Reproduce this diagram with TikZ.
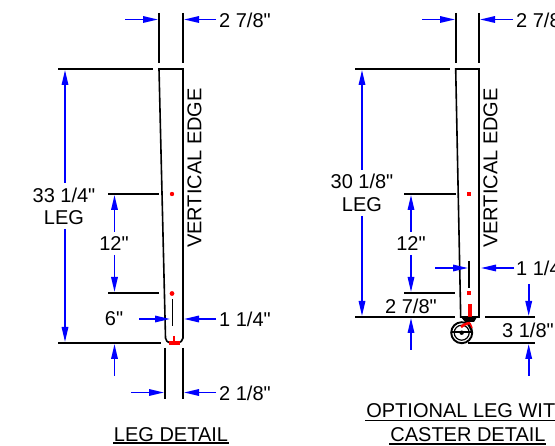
\documentclass[tikz,border=0pt]{standalone}
\usepackage{fontspec}
\newfontfamily\dimfont{Liberation Sans}
\usetikzlibrary{arrows.meta}

\begin{document}
\begin{tikzpicture}[x=1pt,y=-1pt]
		
		\tikzset{outline/.style = {draw=black,line width=1.6pt}}
		\tikzset{dim/.style = {draw=blue,line width=1.6pt,-{Triangle[length=15pt,width=6.5pt]}}}
		\tikzset{redline/.style = {red,line width=1.6pt}}
		\tikzset{dimtext/.style = {inner sep=0pt,font=\dimfont\fontsize{20}{24}\selectfont}}
		\useasboundingbox (0,0) rectangle (555,446);
		\fill[white] (0,0) rectangle (555,446);
		
		% leg detail
		\draw[outline] (159,69) -- (183,69) -- (183,338) to[bend left=35] (178,343) -- (170,343) to[bend left=35] (165.5,338) -- cycle;
		\draw[outline] (159,13) -- (159,63);
		\draw[outline] (183,13) -- (183,63);
		\draw[outline] (165,348) -- (165,399);
		\draw[outline] (183,348) -- (183,399);
		\draw[outline] (58,69) -- (153,69);
		\draw[outline] (108,194) -- (159,194);
		\draw[outline] (108,293) -- (158.5,293);
		\draw[outline] (58,343) -- (161,343);
		\draw[outline] (172.5,299) -- (172.5,326);
		\fill[red] (172,194) circle (2.2);
		\fill[red] (172,293.5) circle (2.4);
		\fill[red] (169,341) rectangle (180,345);
		\draw[redline] (174,336) -- (174,343);
		
		% leg detail labels
		\node[dimtext,anchor=west] (top1) at (219,20) {2 7/8"};
		\node[dimtext,anchor=west] (mid1) at (219,319) {1 1/4"};
		\node[dimtext,anchor=west] (bot1) at (219,393) {2 1/8"};
		\node[dimtext] (len1) at (64,195) {33 1/4"};
		\node[dimtext] (leg1) at (64,218) {LEG};
		\node[dimtext] (gap1) at (114,244) {12"};
		\node[dimtext] (six1) at (114,319) {6"};
		\node[dimtext,rotate=90] (edge1) at (194.5,168) {VERTICAL EDGE};
		\node[dimtext] (title1) at (171,435) {LEG DETAIL};
		\draw[outline] (113,443) -- (229,443);
		
		% leg detail dimensions
		\draw[dim] (125,19.5) -- (158,19.5);
		\draw[dim] (216,19.5) -- (184,19.5);
		\draw[dim] (65,183) -- (65,70);
		\draw[dim] (65,229) -- (65,342);
		\draw[dim] (114.5,232) -- (114.5,195);
		\draw[dim] (114.5,255) -- (114.5,292);
		\draw[dim] (114.5,376) -- (114.5,344);
		\draw[dim] (139,319) -- (170,319);
		\draw[dim] (216,319) -- (184,319);
		\draw[dim] (131,392.5) -- (164,392.5);
		\draw[dim] (216,392.5) -- (184,392.5);
		
		% leg with caster
		\draw[outline] (455.7,69) -- (479,69) -- (479,317) -- (460.7,317) -- cycle;
		\draw[outline] (455.7,13) -- (455.7,63);
		\draw[outline] (479,13) -- (479,63);
		\draw[outline] (355,69) -- (450,69);
		\draw[outline] (404,194) -- (455.7,194);
		\draw[outline] (404,293) -- (455,293);
		\draw[outline] (355,317) -- (455,317);
		\draw[outline] (485,317) -- (535,317);
		\draw[outline] (468,343) -- (535,343);
		\draw[outline] (469,261) -- (469,288);
		\fill[red] (467,192) rectangle (471,196);
		\fill[red] (467,291.5) rectangle (471,295.5);
		\fill[red] (468,304) rectangle (472,317);
		
		% caster
		\fill[black] (461,317) -- (477,317) -- (474,322) -- (465,322) -- cycle;
		\draw[black,line width=1.9pt] (461.7,332.7) circle (10.5);
		\draw[black,line width=1.2pt] (461.7,332.7) circle (7.5);
		\draw[black,line width=1.2pt] (451,332) -- (473,332);
		\fill[black] (461.7,332.7) circle (2.2);
		\draw[black,line width=1.4pt] (467,322) -- (472,332);
		\draw[red,line width=2.6pt] (461,327) to[bend left=15] (470,323);
		\draw[red,line width=1.4pt] (470,323) -- (472,328);
		
		% leg with caster labels
		\node[dimtext,anchor=west] (top2) at (516,20) {2 7/8"};
		\node[dimtext,anchor=west] (mid2) at (516,268) {1 1/4"};
		\node[dimtext] (wheel2) at (528,330) {3 1/8"};
		\node[dimtext] (len2) at (362,181) {30 1/8"};
		\node[dimtext] (leg2) at (362,205) {LEG};
		\node[dimtext] (gap2) at (411,244) {12"};
		\node[dimtext] (base2) at (411,306) {2 7/8"};
		\node[dimtext,rotate=90] (edge2) at (490.5,168) {VERTICAL EDGE};
		\node[dimtext] (title2) at (468,411) {OPTIONAL LEG WITH};
		\node[dimtext] (title3) at (468,435) {CASTER DETAIL};
		\draw[outline] (365,420.7) -- (555,420.7);
		\draw[outline] (389,444) -- (546,444);
		
		% leg with caster dimensions
		\draw[dim] (422,19.5) -- (455,19.5);
		\draw[dim] (513,19.5) -- (480,19.5);
		\draw[dim] (362,170) -- (362,70);
		\draw[dim] (362,216) -- (362,316);
		\draw[dim] (411,232) -- (411,195);
		\draw[dim] (411,255) -- (411,292);
		\draw[dim] (411,350) -- (411,318);
		\draw[dim] (435,268) -- (468,268);
		\draw[dim] (514,268) -- (481,268);
		\draw[dim] (528.7,284) -- (528.7,316);
		\draw[dim] (528.7,376) -- (528.7,344);
		
\end{tikzpicture}
\end{document}
